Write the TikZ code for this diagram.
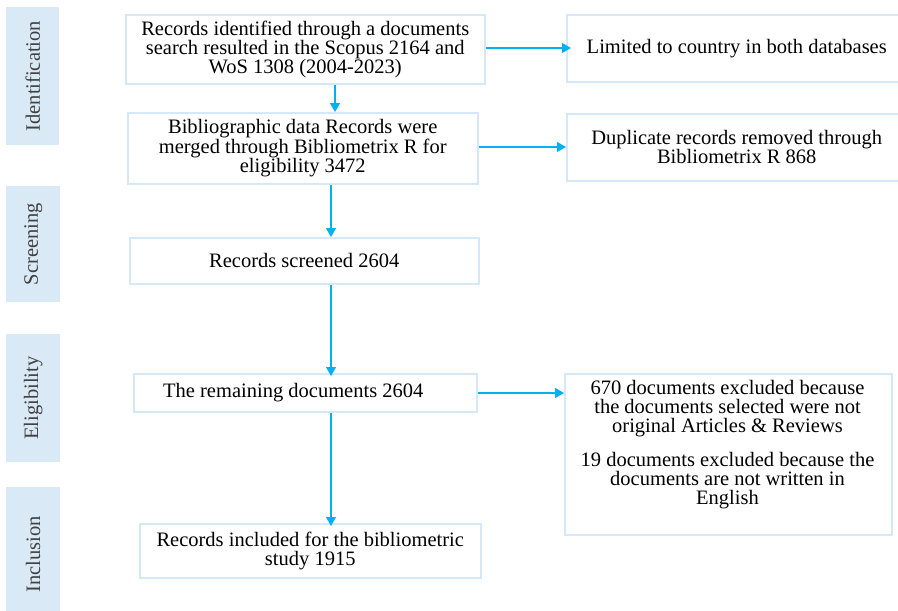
\documentclass[tikz,border=0pt]{standalone}
\usepackage{fontspec}
\setmainfont{Liberation Serif}
\usetikzlibrary{arrows.meta}
\definecolor{stagefill}{HTML}{DAE9F6}
\definecolor{boxline}{HTML}{D6E8F7}
\definecolor{arrowc}{HTML}{00B0F0}
\definecolor{stagetext}{HTML}{404040}
\tikzset{
  stage/.style={fill=stagefill, draw=none, anchor=north west, inner sep=0pt},
  stagelabel/.style={rotate=90, text=stagetext, font=\fontsize{20.5}{19}\selectfont},
  box/.style={draw=boxline, line width=1.5pt, anchor=north west, inner sep=0pt, align=center, font=\fontsize{20.5}{18.8}\selectfont},
  arr/.style={draw=arrowc, line width=1.3pt, -{Triangle[length=9pt,width=10pt]}}
}
\begin{document}
\begin{tikzpicture}[x=1pt,y=-1pt]
\useasboundingbox (0,0) rectangle (898,611);
% stage bars
\node[stage, minimum width=53, minimum height=138] (s1) at (6,7) {};
\node[stage, minimum width=54, minimum height=116] (s2) at (6,186) {};
\node[stage, minimum width=54, minimum height=128] (s3) at (6,334) {};
\node[stage, minimum width=54, minimum height=130] (s4) at (6,487) {};
\node[stagelabel] at (s1.center) {Identification};
\node[stagelabel] at (s2.center) {Screening};
\node[stagelabel] at (s3.center) {Eligibility};
\node[stagelabel] at ([yshift=-2pt]s4.center) {Inclusion};
% main boxes
\node[box, minimum width=359, minimum height=69] (b1) at (125,14) {Records identified through a documents\\search resulted in the Scopus 2164 and\\WoS 1308 (2004-2023)};
\node[box, minimum width=350, minimum height=71] (b2) at (127,112) {Bibliographic data Records were\\merged through Bibliometrix R for\\eligibility 3472};
\node[box, minimum width=349, minimum height=46] (b3) at (129,237) {Records screened 2604};
\node[box, minimum width=343, minimum height=38] (b4) at (133,373) {\raisebox{5pt}{The remaining documents 2604}\hspace{24pt}};
\node[box, minimum width=341, minimum height=54] (b5) at (139,523) {Records included for the bibliometric\\study 1915};
% right boxes
\node[box, minimum width=340, minimum height=67] (r1) at (566,14) {Limited to country in both databases};
\node[box, minimum width=340, minimum height=67] (r2) at (566,113) {Duplicate records removed through\\Bibliometrix R 868};
\node[box, minimum width=327, minimum height=161] (r3) at (564,373) {};
\node[align=center, font=\fontsize{20.5}{19}\selectfont, anchor=north, inner sep=0pt] (t3) at (727.5,380) {670 documents excluded because\\the documents selected were not\\original Articles \& Reviews\\[15pt]19 documents excluded because the\\documents are not written in\\English};
% arrow columns
\coordinate (c1) at (335,0);
\coordinate (c2) at (331,0);
\draw[arr] (b1.south -| c1) -- (b2.north -| c1);
\draw[arr] (b2.south -| c2) -- (b3.north -| c2);
\draw[arr] (b3.south -| c2) -- ([yshift=-3pt]b4.north -| c2);
\draw[arr] (b4.south -| c2) -- ([yshift=-3pt]b5.north -| c2);
% side arrows
\draw[arr] (b1.east |- 0,48) -- ([xshift=5pt]r1.west |- 0,48);
\draw[arr] (b2.east |- 0,147) -- (r2.west |- 0,147);
\draw[arr] (b4.east |- 0,393) -- (r3.west |- 0,393);
\end{tikzpicture}
\end{document}
